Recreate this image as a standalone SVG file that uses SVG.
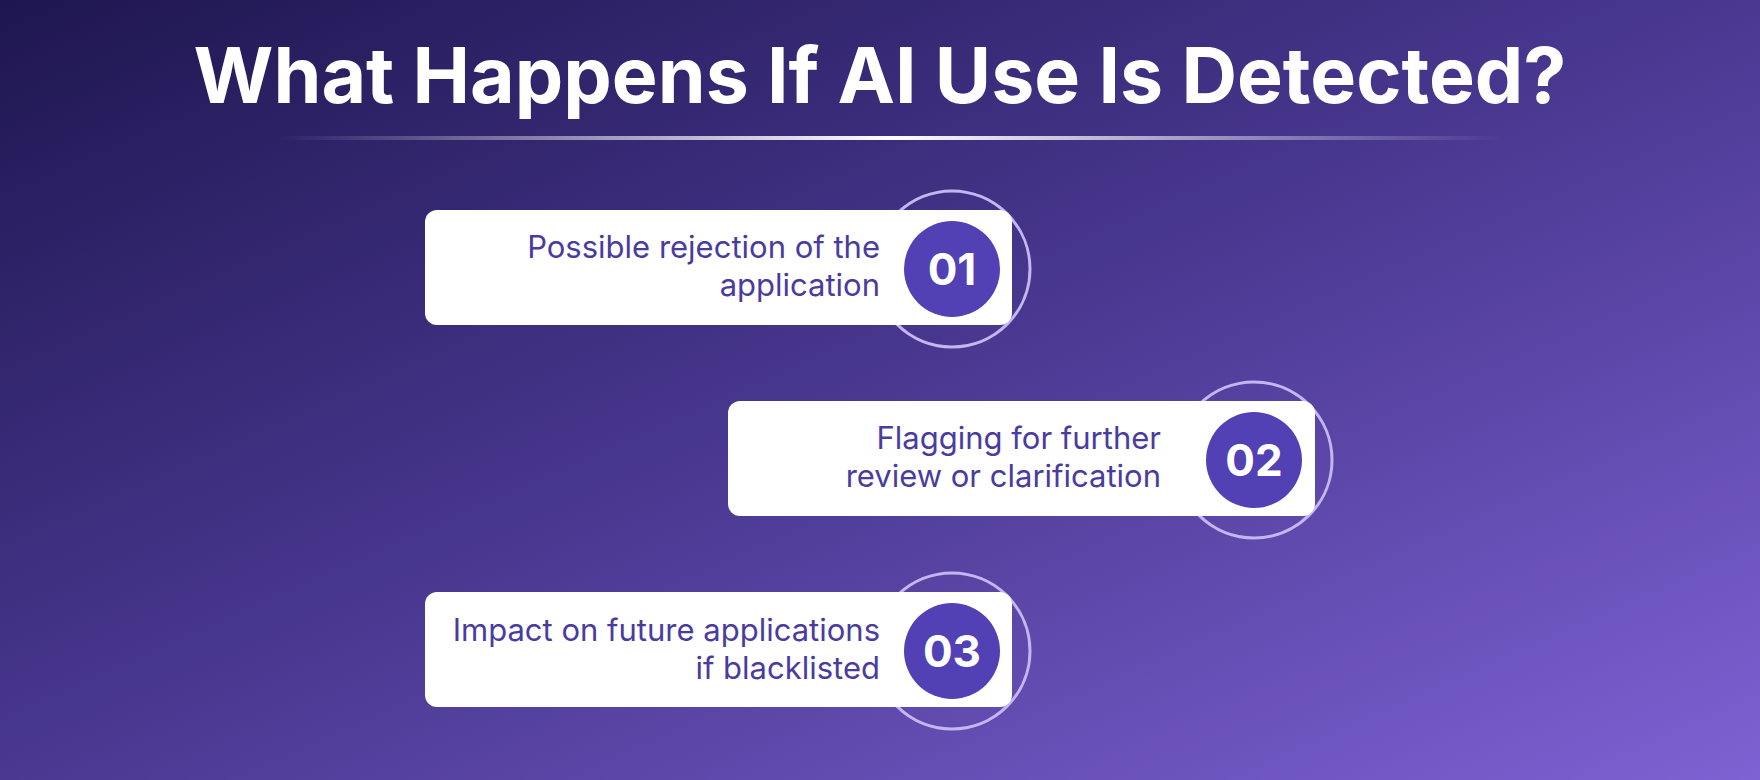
<svg xmlns="http://www.w3.org/2000/svg" width="1760" height="780" viewBox="0 0 1760 780">
<defs>
<linearGradient id="bg" x1="0" y1="0" x2="1" y2="1">
<stop offset="0" stop-color="#1e1650"/>
<stop offset="0.5" stop-color="#4a3891"/>
<stop offset="1" stop-color="#7d62d3"/>
</linearGradient>
<linearGradient id="ln" x1="0" y1="0" x2="1" y2="0">
<stop offset="0" stop-color="#fff" stop-opacity="0"/>
<stop offset="0.5" stop-color="#fff" stop-opacity="1"/>
<stop offset="1" stop-color="#fff" stop-opacity="0"/>
</linearGradient>
<style>
.card{fill:#fff}
.ring{fill:none;stroke:#c4b6f2;stroke-width:3}
.dot{fill:#5240b5}
.t{font-family:Inter,"Noto Sans",sans-serif;font-size:31px;fill:#4a3c9e;text-anchor:end}
.n{font-family:Inter,"Noto Sans",sans-serif;font-size:44px;font-weight:700;fill:#fff;text-anchor:middle}
</style>
</defs>
<rect width="1760" height="780" fill="url(#bg)"/>
<text x="880" y="103" font-family="Inter,'Noto Sans',sans-serif" font-size="77" font-weight="700" fill="#fff" text-anchor="middle">What Happens If AI Use Is Detected?</text>
<rect x="280" y="136" width="1224" height="4" fill="url(#ln)"/>
<g id="connectors"/>
<g id="n1">
<circle class="ring" cx="952" cy="269" r="78"/>
<rect class="card" x="425" y="210" width="587" height="115" rx="12"/>
<circle class="dot" cx="952" cy="269" r="48"/>
<text class="t" x="880" y="258">Possible rejection of the</text>
<text class="t" x="880" y="296">application</text>
<text class="n" x="952" y="285">01</text>
</g>
<g id="n2">
<circle class="ring" cx="1254" cy="460" r="78"/>
<rect class="card" x="728" y="401" width="587" height="115" rx="12"/>
<circle class="dot" cx="1254" cy="460" r="48"/>
<text class="t" x="1161" y="449">Flagging for further</text>
<text class="t" x="1161" y="487">review or clarification</text>
<text class="n" x="1254" y="476">02</text>
</g>
<g id="n3">
<circle class="ring" cx="952" cy="651" r="78"/>
<rect class="card" x="425" y="592" width="587" height="115" rx="12"/>
<circle class="dot" cx="952" cy="651" r="48"/>
<text class="t" x="880" y="641">Impact on future applications</text>
<text class="t" x="880" y="679">if blacklisted</text>
<text class="n" x="952" y="667">03</text>
</g>
</svg>
